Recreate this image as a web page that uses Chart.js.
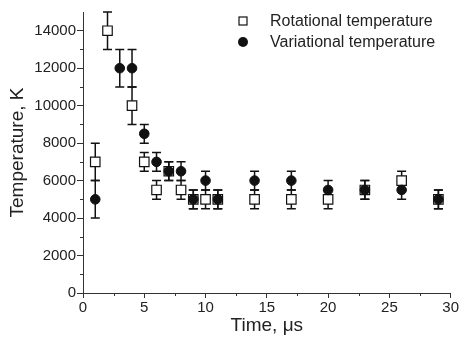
<!DOCTYPE html>
<html><head><meta charset="utf-8">
<script src="https://cdn.jsdelivr.net/npm/chart.js@4/dist/chart.umd.min.js"></script>
<style>html,body{margin:0;padding:0;background:#fff}</style>
</head><body>
<canvas id="c" width="460" height="339" style="width:460px;height:339px;display:block"></canvas>
<script>
const seriesNames = ['Rotational temperature', 'Variational temperature'];
const rotTime = [1, 2, 4, 5, 6, 7, 8, 9, 10, 11, 14, 17, 20, 23, 26, 29];
const rotTemp = [7000, 14000, 10000, 7000, 5500, 6500, 5500, 5000, 5000, 5000, 5000, 5000, 5000, 5500, 6000, 5000];
const rotErr  = [1000, 1000, 1000, 500, 500, 500, 500, 500, 500, 500, 500, 500, 500, 500, 500, 500];
const varTime = [1, 3, 4, 5, 6, 7, 8, 9, 10, 11, 14, 17, 20, 23, 26, 29];
const varTemp = [5000, 12000, 12000, 8500, 7000, 6500, 6500, 5000, 6000, 5000, 6000, 6000, 5500, 5500, 5500, 5000];
const varErr  = [1000, 1000, 1000, 500, 500, 500, 500, 500, 500, 500, 500, 500, 500, 500, 500, 500];
const xTicks = [0, 5, 10, 15, 20, 25, 30];
const xMinorTicks = [2.5, 7.5, 12.5, 17.5, 22.5, 27.5];
const yTicks = [0, 2000, 4000, 6000, 8000, 10000, 12000, 14000];
const yMinorTicks = [1000, 3000, 5000, 7000, 9000, 11000, 13000];
const xTitle = 'Time, \u03bcs';
const yTitle = 'Temperature, K';

const FONT = '"Liberation Sans", Arial, sans-serif';
const INK = '#111';

function toPoints(xs, ys) { return xs.map((x, i) => ({ x: x, y: ys[i] })); }
const errors = [rotErr, varErr];

const errorBars = {
  id: 'errorBars',
  beforeDatasetsDraw(chart) {
    const ctx = chart.ctx, xs = chart.scales.x, ys = chart.scales.y;
    ctx.save();
    ctx.strokeStyle = INK; ctx.lineWidth = 1.5;
    chart.data.datasets.forEach((ds) => {
      const err = errors[ds.errIndex];
      ds.data.forEach((p, i) => {
        const px = xs.getPixelForValue(p.x);
        const top = ys.getPixelForValue(p.y + err[i]);
        const bot = ys.getPixelForValue(p.y - err[i]);
        ctx.beginPath();
        ctx.moveTo(px, top); ctx.lineTo(px, bot);
        ctx.moveTo(px - 4.5, top); ctx.lineTo(px + 4.5, top);
        ctx.moveTo(px - 4.5, bot); ctx.lineTo(px + 4.5, bot);
        ctx.stroke();
      });
    });
    ctx.restore();
  }
};

const extras = {
  id: 'extras',
  afterDraw(chart) {
    const ctx = chart.ctx, xs = chart.scales.x, ys = chart.scales.y;
    const a = chart.chartArea;
    ctx.save();
    ctx.strokeStyle = '#333'; ctx.lineWidth = 1;
    ctx.beginPath();
    yMinorTicks.forEach(v => { const py = Math.round(ys.getPixelForValue(v)) + 0.5; ctx.moveTo(a.left - 3, py); ctx.lineTo(a.left, py); });
    xMinorTicks.forEach(v => { const px = Math.round(xs.getPixelForValue(v)) + 0.5; ctx.moveTo(px, a.bottom); ctx.lineTo(px, a.bottom + 3); });
    ctx.stroke();
    // legend
    const lx = 243, ly = [21, 42];
    ctx.fillStyle = '#fff'; ctx.strokeStyle = INK; ctx.lineWidth = 1.2;
    ctx.fillRect(lx - 4, ly[0] - 4, 8, 8); ctx.strokeRect(lx - 4, ly[0] - 4, 8, 8);
    ctx.fillStyle = INK; ctx.beginPath(); ctx.arc(lx, ly[1], 5, 0, Math.PI * 2); ctx.fill();
    ctx.fillStyle = '#222'; ctx.font = '16px ' + FONT; ctx.textBaseline = 'middle'; ctx.textAlign = 'left';
    ctx.fillText(seriesNames[0], 270, ly[0] + 1);
    ctx.fillText(seriesNames[1], 270, ly[1] + 1);
    ctx.restore();
  }
};

new Chart(document.getElementById('c'), {
  type: 'scatter',
  data: {
    datasets: [
      { label: seriesNames[1], errIndex: 1, data: toPoints(varTime, varTemp), order: 0,
        pointStyle: 'circle', pointRadius: 4.8, pointHoverRadius: 4.8,
        backgroundColor: INK, borderColor: INK, borderWidth: 1 },
      { label: seriesNames[0], errIndex: 0, data: toPoints(rotTime, rotTemp), order: 1,
        pointStyle: 'rect', pointRadius: 6.7, pointHoverRadius: 6.7,
        backgroundColor: '#fff', borderColor: INK, borderWidth: 1.2 }
    ]
  },
  options: {
    responsive: false, animation: false, devicePixelRatio: 1,
    layout: { padding: { left: 0, right: 7, top: 12, bottom: 0 } },
    plugins: { legend: { display: false }, tooltip: { enabled: false } },
    clip: false,
    scales: {
      x: {
        type: 'linear', min: 0, max: 30,
        afterBuildTicks: s => { s.ticks = xTicks.map(v => ({ value: v })); },
        afterFit: s => { s.height = 46; },
        grid: { drawOnChartArea: false, drawTicks: true, tickLength: 5, color: '#333', tickWidth: 1 },
        border: { display: true, color: '#333', width: 1 },
        ticks: { font: { family: FONT, size: 15 }, color: '#222', padding: 1, maxRotation: 0, callback: v => String(v) },
        title: { display: true, text: xTitle, font: { family: FONT, size: 19 }, color: '#222', padding: { top: 0, bottom: 2 } }
      },
      y: {
        type: 'linear', min: 0, max: 15000,
        afterBuildTicks: s => { s.ticks = yTicks.map(v => ({ value: v })); },
        afterFit: s => { s.width = 83; },
        grid: { drawOnChartArea: false, drawTicks: true, tickLength: 6, color: '#333', tickWidth: 1 },
        border: { display: true, color: '#333', width: 1 },
        ticks: { font: { family: FONT, size: 15 }, color: '#222', padding: 1, callback: v => String(v) },
        title: { display: true, text: yTitle, font: { family: FONT, size: 19 }, color: '#222', padding: { top: 6, bottom: 0 } }
      }
    }
  },
  plugins: [errorBars, extras]
});
</script>
</body></html>
